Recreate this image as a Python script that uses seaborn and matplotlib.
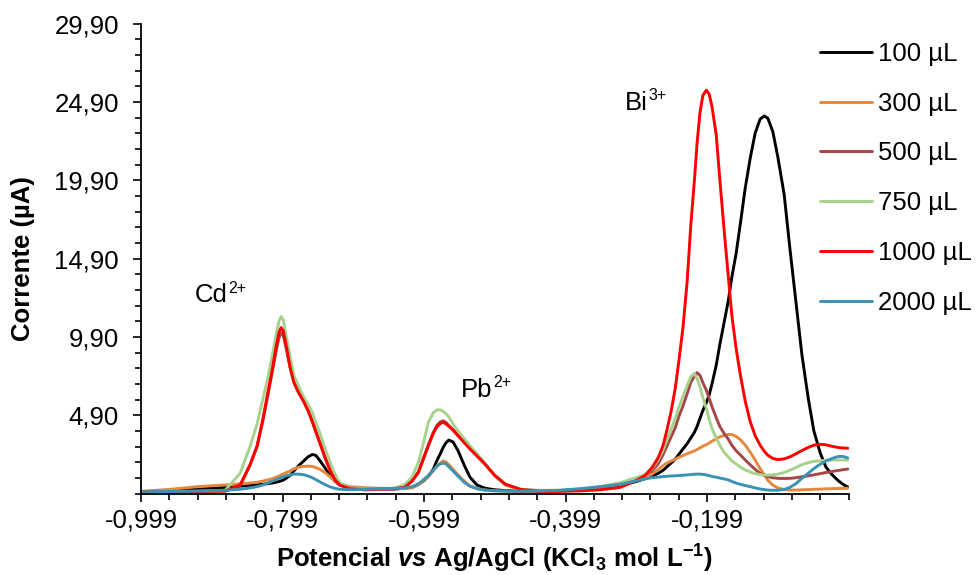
import numpy as np
import pandas as pd
import matplotlib
matplotlib.use("Agg")
import matplotlib.pyplot as plt
import seaborn as sns
from matplotlib.ticker import FixedLocator, FixedFormatter

# ---------------- data ----------------
potential = [
    -0.999, -0.958, -0.916, -0.880, -0.859, -0.845, -0.835, -0.827, -0.820, -0.814,
    -0.808, -0.804, -0.801, -0.798, -0.794, -0.788, -0.783, -0.777, -0.770, -0.763,
    -0.757, -0.752, -0.746, -0.739, -0.732, -0.725, -0.718, -0.704, -0.682, -0.661,
    -0.640, -0.626, -0.616, -0.607, -0.600, -0.593, -0.586, -0.581, -0.576, -0.572,
    -0.568, -0.564, -0.558, -0.551, -0.542, -0.534, -0.524, -0.513, -0.499, -0.484,
    -0.463, -0.435, -0.407, -0.378, -0.350, -0.322, -0.301, -0.287, -0.277, -0.268,
    -0.261, -0.256, -0.250, -0.244, -0.239, -0.233, -0.227, -0.222, -0.217, -0.213,
    -0.209, -0.205, -0.200, -0.196, -0.192, -0.186, -0.181, -0.175, -0.169, -0.164,
    -0.158, -0.152, -0.145, -0.138, -0.131, -0.124, -0.118, -0.113, -0.106, -0.099,
    -0.090, -0.082, -0.073, -0.065, -0.056, -0.048, -0.039, -0.031, -0.022, -0.014,
    -0.007, 0.000,
]

i_100 = [
    0.02, 0.10, 0.20, 0.30, 0.38, 0.43, 0.47, 0.50, 0.54, 0.58,
    0.63, 0.68, 0.72, 0.77, 0.88, 1.08, 1.35, 1.65, 1.95, 2.25,
    2.40, 2.35, 2.00, 1.55, 1.05, 0.70, 0.45, 0.28, 0.22, 0.20,
    0.20, 0.25, 0.32, 0.50, 0.70, 1.00, 1.45, 2.00, 2.45, 2.85,
    3.15, 3.32, 3.20, 2.65, 1.70, 0.95, 0.45, 0.25, 0.15, 0.10,
    0.05, 0.05, 0.08, 0.15, 0.25, 0.42, 0.65, 0.85, 1.00, 1.20,
    1.40, 1.60, 1.85, 2.10, 2.40, 2.75, 3.10, 3.45, 3.80, 4.20,
    4.70, 5.20, 5.70, 6.20, 6.90, 8.10, 9.40, 10.80, 12.20, 13.70,
    15.20, 17.10, 19.40, 21.30, 22.90, 23.80, 24.00, 23.85, 23.00, 21.40,
    19.00, 15.60, 12.00, 8.80, 6.00, 3.90, 2.50, 1.60, 1.10, 0.75,
    0.50, 0.32,
]

i_300 = [
    0.05, 0.18, 0.36, 0.46, 0.52, 0.58, 0.63, 0.70, 0.78, 0.85,
    0.95, 1.03, 1.10, 1.16, 1.24, 1.36, 1.48, 1.58, 1.64, 1.66,
    1.64, 1.57, 1.45, 1.25, 0.98, 0.70, 0.52, 0.35, 0.28, 0.25,
    0.22, 0.22, 0.27, 0.45, 0.72, 1.00, 1.35, 1.65, 1.85, 2.00,
    1.92, 1.75, 1.45, 1.10, 0.70, 0.38, 0.22, 0.13, 0.08, 0.06,
    0.05, 0.05, 0.08, 0.15, 0.28, 0.48, 0.72, 0.92, 1.15, 1.45,
    1.70, 1.85, 1.98, 2.10, 2.22, 2.33, 2.45, 2.55, 2.63, 2.72,
    2.82, 2.93, 3.03, 3.13, 3.25, 3.40, 3.53, 3.62, 3.68, 3.68,
    3.55, 3.35, 3.00, 2.55, 2.05, 1.50, 1.10, 0.75, 0.45, 0.27,
    0.17, 0.13, 0.13, 0.15, 0.16, 0.18, 0.19, 0.21, 0.22, 0.23,
    0.24, 0.25,
]

i_500 = [
    0.02, 0.03, 0.05, 0.07, 0.40, 1.70, 2.90, 4.50, 6.10, 7.55,
    9.00, 9.85, 10.15, 10.00, 9.20, 7.90, 7.05, 6.45, 5.90, 5.25,
    4.55, 3.90, 3.15, 2.25, 1.45, 0.82, 0.46, 0.22, 0.15, 0.18,
    0.22, 0.32, 0.72, 1.30, 2.15, 3.00, 3.80, 4.25, 4.48, 4.55,
    4.45, 4.25, 4.00, 3.62, 3.18, 2.78, 2.32, 1.80, 1.08, 0.50,
    0.18, 0.08, 0.10, 0.17, 0.30, 0.55, 0.85, 1.10, 1.35, 1.80,
    2.40, 2.90, 3.50, 4.10, 4.80, 5.50, 6.30, 7.00, 7.40, 7.62,
    7.45, 7.00, 6.50, 6.00, 5.45, 4.75, 4.20, 3.75, 3.38, 3.00,
    2.65, 2.38, 2.05, 1.75, 1.45, 1.20, 1.07, 0.98, 0.92, 0.88,
    0.87, 0.88, 0.92, 0.98, 1.04, 1.10, 1.18, 1.25, 1.32, 1.38,
    1.43, 1.47,
]

i_750 = [
    0.02, 0.03, 0.06, 0.12, 1.20, 2.90, 4.35, 5.90, 7.25, 8.60,
    10.05, 10.90, 11.20, 11.00, 10.00, 8.60, 7.45, 6.85, 6.15, 5.60,
    5.10, 4.45, 3.75, 2.80, 1.95, 1.15, 0.60, 0.25, 0.18, 0.18,
    0.25, 0.50, 0.95, 1.90, 3.10, 4.45, 5.05, 5.25, 5.25, 5.15,
    5.00, 4.80, 4.35, 3.90, 3.40, 2.95, 2.45, 1.85, 1.05, 0.42,
    0.18, 0.12, 0.12, 0.20, 0.35, 0.60, 0.90, 1.10, 1.50, 2.05,
    2.70, 3.30, 4.00, 4.70, 5.40, 6.10, 6.80, 7.35, 7.58, 7.25,
    6.70, 6.05, 5.35, 4.65, 4.05, 3.45, 3.00, 2.55, 2.25, 2.00,
    1.80, 1.60, 1.42, 1.28, 1.18, 1.12, 1.09, 1.08, 1.10, 1.15,
    1.25, 1.40, 1.58, 1.75, 1.88, 1.96, 2.00, 2.03, 2.05, 2.05,
    2.05, 2.05,
]

i_1000 = [
    0.02, 0.03, 0.05, 0.07, 0.45, 1.75, 2.95, 4.60, 6.30, 7.70,
    9.30, 10.20, 10.50, 10.30, 9.40, 7.90, 7.00, 6.40, 5.85, 5.20,
    4.50, 3.85, 3.10, 2.20, 1.40, 0.80, 0.45, 0.22, 0.15, 0.18,
    0.22, 0.32, 0.70, 1.25, 2.10, 2.95, 3.75, 4.15, 4.38, 4.45,
    4.35, 4.20, 3.95, 3.60, 3.15, 2.75, 2.30, 1.80, 1.05, 0.50,
    0.18, 0.05, 0.05, 0.08, 0.15, 0.30, 0.70, 1.05, 1.55, 2.20,
    3.00, 3.90, 5.10, 6.60, 8.30, 10.50, 13.50, 17.00, 19.80, 22.30,
    24.20, 25.30, 25.65, 25.40, 24.60, 22.80, 20.00, 16.80, 13.80, 11.30,
    9.20, 7.50, 5.80, 4.50, 3.60, 3.00, 2.60, 2.35, 2.15, 2.08,
    2.12, 2.25, 2.45, 2.65, 2.85, 3.00, 3.05, 3.02, 2.92, 2.85,
    2.82, 2.80,
]

i_2000 = [
    0.02, 0.04, 0.07, 0.12, 0.18, 0.27, 0.35, 0.45, 0.58, 0.70,
    0.80, 0.87, 0.93, 0.97, 1.04, 1.10, 1.14, 1.15, 1.12, 1.03,
    0.92, 0.80, 0.65, 0.48, 0.34, 0.24, 0.18, 0.15, 0.18, 0.22,
    0.25, 0.27, 0.33, 0.52, 0.78, 1.05, 1.40, 1.65, 1.80, 1.85,
    1.80, 1.62, 1.35, 1.02, 0.62, 0.38, 0.22, 0.13, 0.09, 0.07,
    0.06, 0.08, 0.12, 0.22, 0.35, 0.50, 0.70, 0.85, 0.92, 0.96,
    0.99, 1.01, 1.03, 1.04, 1.06, 1.08, 1.10, 1.12, 1.14, 1.15,
    1.15, 1.13, 1.10, 1.05, 1.00, 0.95, 0.90, 0.85, 0.78, 0.68,
    0.58, 0.50, 0.42, 0.35, 0.27, 0.20, 0.16, 0.13, 0.12, 0.12,
    0.17, 0.30, 0.55, 0.88, 1.20, 1.50, 1.78, 1.98, 2.15, 2.27,
    2.28, 2.18,
]

series_labels = ["100 µL", "300 µL", "500 µL", "750 µL", "1000 µL", "2000 µL"]
series_colors = ["#000000", "#E5873C", "#A64646", "#A9D18E", "#FF0000", "#3B93B3"]

x_major_ticks = [-0.999, -0.799, -0.599, -0.399, -0.199]
x_minor_ticks = [-0.999 + 0.04 * k for k in range(26)]
y_major_ticks = [4.90, 9.90, 14.90, 19.90, 24.90, 29.90]
y_minor_ticks = [-0.10 + 1.0 * k for k in range(31)]

peak_names = ["Cd", "Pb", "Bi"]
peak_charges = ["2+", "2+", "3+"]
peak_label_x = [-0.923, -0.547, -0.315]
peak_label_y = [12.10, 6.10, 24.40]

# ---------------- build table ----------------
all_series = [i_100, i_300, i_500, i_750, i_1000, i_2000]
frames = []
for lab, vals in zip(series_labels, all_series):
    frames.append(pd.DataFrame({"Potencial": potential, "Corrente": vals, "Volume": lab}))
df = pd.concat(frames, ignore_index=True)

# ---------------- style ----------------
sns.set_style("ticks")
plt.rcParams["font.family"] = ["Liberation Sans", "DejaVu Sans"]
plt.rcParams["text.color"] = "black"
plt.rcParams["axes.labelcolor"] = "black"
plt.rcParams["xtick.color"] = "black"
plt.rcParams["ytick.color"] = "black"
plt.rcParams["axes.unicode_minus"] = False
plt.rcParams["mathtext.fontset"] = "custom"
plt.rcParams["mathtext.rm"] = "Liberation Sans"
plt.rcParams["mathtext.it"] = "Liberation Sans:italic"
plt.rcParams["mathtext.bf"] = "Liberation Sans:bold"
try:
    plt.rcParams["mathtext.bfit"] = "Liberation Sans:italic:bold"
    has_bfit = True
except Exception:
    has_bfit = False

FS = 18.5

fig = plt.figure(figsize=(9.76, 5.75), dpi=100)
ax = fig.add_axes([0.1445, 0.1414, 0.8694 - 0.1445, 0.9591 - 0.1414])

palette = dict(zip(series_labels, series_colors))
sns.lineplot(data=df, x="Potencial", y="Corrente", hue="Volume",
             hue_order=series_labels, palette=palette, estimator=None,
             sort=False, linewidth=2.1, ax=ax)

ax.set_xlim(-0.999, 0.001)
ax.set_ylim(-0.10, 29.90)

ax.xaxis.set_major_locator(FixedLocator(x_major_ticks))
ax.xaxis.set_major_formatter(FixedFormatter([f"{v:.3f}".replace(".", ",") for v in x_major_ticks]))
ax.xaxis.set_minor_locator(FixedLocator(x_minor_ticks))
ax.yaxis.set_major_locator(FixedLocator(y_major_ticks))
ax.yaxis.set_major_formatter(FixedFormatter([f"{v:.2f}".replace(".", ",") for v in y_major_ticks]))
ax.yaxis.set_minor_locator(FixedLocator(y_minor_ticks))

for s in ["top", "right"]:
    ax.spines[s].set_visible(False)
for s in ["left", "bottom"]:
    ax.spines[s].set_linewidth(1.3)
    ax.spines[s].set_color("black")

ax.tick_params(axis="both", which="major", direction="out", length=5.8, width=1.2,
               labelsize=FS, colors="black", pad=5)
ax.tick_params(axis="both", which="minor", direction="out", length=4.0, width=1.2, colors="black")
ax.tick_params(axis="y", which="major", pad=10)

ax.set_ylabel("Corrente (µA)", fontsize=FS, fontweight="bold", color="black")
vs = r"$\mathbfit{vs}$" if has_bfit else r"$\it{vs}$"
ax.set_xlabel("Potencial " + vs + r" Ag/AgCl (KCl$_\mathbf{3}$ mol L$^\mathbf{-1}$)",
              fontsize=FS, fontweight="bold", color="black")
ax.yaxis.set_label_coords(-0.150, 0.5)
ax.xaxis.set_label_coords(0.5, -0.105)

for name, chg, xx, yy in zip(peak_names, peak_charges, peak_label_x, peak_label_y):
    t = ax.text(xx, yy, name, fontsize=FS, ha="left", va="baseline", color="black")
    ax.annotate(chg, xy=(1.0, 0.62), xycoords=t, xytext=(0.5, 0),
                textcoords="offset points", fontsize=FS * 0.62,
                ha="left", va="baseline", color="black")

handles, labels = ax.get_legend_handles_labels()
ax.legend(handles, labels, loc="upper left", bbox_to_anchor=(820 / 976, 0.9275),
          bbox_transform=fig.transFigure, frameon=False, fontsize=FS,
          borderpad=0, borderaxespad=0, handlelength=2.02, handletextpad=0.23,
          labelspacing=1.005)
for line in ax.get_legend().get_lines():
    line.set_linewidth(2.1)

fig.savefig("out.png", dpi=100)
